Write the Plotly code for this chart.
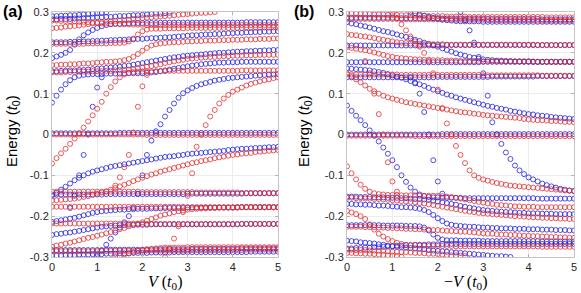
import plotly.graph_objects as go

N = None

# Gate voltage V (units of t0), sampled every 0.1
V = [0.0, 0.1, 0.2, 0.3, 0.4, 0.5, 0.6, 0.7, 0.8, 0.9,
     1.0, 1.1, 1.2, 1.3, 1.4, 1.5, 1.6, 1.7, 1.8, 1.9,
     2.0, 2.1, 2.2, 2.3, 2.4, 2.5, 2.6, 2.7, 2.8, 2.9,
     3.0, 3.1, 3.2, 3.3, 3.4, 3.5, 3.6, 3.7, 3.8, 3.9,
     4.0, 4.1, 4.2, 4.3, 4.4, 4.5, 4.6, 4.7, 4.8, 4.9,
     5.0]

X_TICKS = ["0", "1", "2", "3", "4", "5"]
Y_TICKVALS = [-0.3, -0.2, -0.1, 0, 0.1, 0.2, 0.3]
Y_TICKS = ["-0.3", "-0.2", "-0.1", "0", "0.1", "0.2", "0.3"]

# ---------------- Panel (a): energies in units of 1e-3 t0 ----------------
a_blue_1 = [290,290,291,291,292,292,293,294,295,296,
            297,298,299,N,N,N,N,N,N,N,
            N,N,N,N,N,N,N,N,N,N,
            N,N,N,N,N,N,N,N,N,N,
            N,N,N,N,N,N,N,N,N,N,
            N]
a_blue_2 = [282,282,283,283,283,284,284,285,285,286,
            287,287,288,288,289,290,290,291,292,292,
            293,294,295,296,296,297,298,N,N,N,
            N,N,N,N,N,N,N,N,N,N,
            N,N,N,N,N,N,N,N,N,N,
            N]
a_blue_3 = [187,191,195,200,207,220,233,243,250,256,
            261,265,268,270,271,271,272,272,273,273,
            273,273,273,273,274,274,274,274,274,274,
            274,274,274,274,274,274,274,274,274,274,
            274,274,274,275,275,275,275,275,275,275,
            275]
a_blue_4 = [226,226,226,226,227,227,227,228,228,229,
            229,230,230,231,231,232,232,233,233,234,
            234,235,236,236,237,238,238,239,240,241,
            242,243,243,244,245,245,246,246,247,248,
            248,249,249,250,250,251,251,252,252,253,
            253]
a_blue_5 = [155,155,156,156,157,157,158,158,159,160,
            161,162,163,164,165,166,168,169,171,173,
            175,177,179,181,183,185,187,189,190,192,
            193,194,195,196,197,198,199,200,200,201,
            202,203,203,204,204,205,205,206,206,207,
            207]
a_blue_6 = [78,95,110,123,133,140,144,146,147,148,
            148,148,149,149,149,149,150,150,150,150,
            150,151,152,153,155,157,159,161,163,165,
            167,169,170,172,173,174,175,176,176,177,
            177,177,178,178,178,178,178,178,178,178,
            178]
a_blue_7 = [N,N,N,N,-180,-150,-100,-50,0,68,
            115,140,N,N,N,N,N,N,N,N,
            N,N,N,N,N,N,N,N,N,N,
            N,N,N,N,N,N,N,N,N,N,
            N,N,N,N,N,N,N,N,N,N,
            N]
a_blue_8 = [N,N,N,N,N,N,N,N,N,N,
            -298,-285,-270,-255,-240,-228,-215,-200,-180,-145,
            -100,-50,-15,8,25,44,60,76,90,101,
            108,114,119,123,126,129,132,134,136,138,
            139,140,141,142,143,144,145,146,147,147,
            148]
a_blue_9 = [3,3,3,3,3,3,3,3,3,3,
            3,3,3,3,3,4,4,4,4,4,
            4,4,4,4,4,4,4,4,4,4,
            4,4,4,4,4,4,4,4,4,4,
            4,4,4,4,4,4,4,4,4,4,
            4]
a_blue_10 = [-150,-143,-135,-128,-120,-112,-106,-100,-95,-91,
             -88,-85,-82,-79,-77,-75,-73,-71,-69,-67,
             -65,-63,-61,-59,-57,-55,-54,-53,-51,-50,
             -48,-47,-46,-45,-44,-43,-42,-41,-40,-38,
             -37,-36,-35,-35,-34,-33,-33,-32,-31,-31,
             -30]
a_blue_11 = [-147,-147,-147,-147,-147,-147,-147,-147,-147,-147,
             -147,-147,-146,-146,-146,-146,-146,-146,-146,-146,
             -146,-146,-146,-146,-146,-146,-146,-146,-146,-146,
             -145,-145,-145,-145,-145,-145,-145,-145,-145,-145,
             -145,-145,-145,-144,-144,-144,-144,-144,-144,-144,
             -144]
a_blue_12 = [-214,-212,-210,-208,-206,-204,-201,-198,-195,-192,
             -190,-188,-187,-186,-185,-184,-184,-183,-183,-182,
             -182,-182,-181,-181,-181,-180,-180,-180,-180,-180,
             -179,-179,-179,-179,-179,-179,-179,-179,-179,-179,
             -179,-179,-178,-178,-178,-178,-178,-178,-178,-178,
             -178]
a_blue_13 = [-246,-244,-243,-241,-240,-238,-236,-234,-232,-230,
             -228,-226,-225,-224,-223,-222,-222,-221,-221,-221,
             -221,-221,-220,-220,-220,-220,-220,-220,-220,-220,
             -220,-220,-220,-220,-220,-220,-220,-220,-220,-220,
             -220,-220,-219,-219,-219,-219,-219,-219,-219,-219,
             -219]
a_blue_14 = [-283,-283,-283,-283,-283,-283,-283,-283,-283,-283,
             -283,-283,-282,-282,-282,-282,-282,-282,-282,-282,
             -282,-282,-281,-281,-281,-281,-281,-281,-281,-281,
             -281,-280,-280,-280,-280,-280,-280,-280,-280,-280,
             -280,-280,-279,-279,-279,-279,-279,-279,-279,-279,
             -279]
a_blue_15 = [-296,-296,-296,-295,-295,-295,-294,-294,-294,-293,
             -293,-293,-292,-292,-292,-291,-291,-291,-290,-290,
             -290,-290,-289,-289,-289,-289,-289,-288,-288,-288,
             -288,-288,-288,-288,-288,-288,-288,-288,-288,-288,
             -288,-288,-288,-288,-287,-287,-287,-287,-287,-287,
             -287]

a_red_1 = [260,261,262,264,265,266,267,269,270,272,
           274,275,276,277,278,279,280,281,283,284,
           285,286,287,288,289,290,291,292,293,294,
           295,296,297,298,298,299,300,N,N,N,
           N,N,N,N,N,N,N,N,N,N,
           N]
a_red_2 = [279,279,278,278,277,277,276,276,275,274,
           273,272,272,271,271,270,270,270,269,269,
           269,268,268,268,268,268,268,268,268,268,
           268,268,268,268,268,268,268,268,268,268,
           268,268,268,268,268,268,268,268,268,268,
           268]
a_red_3 = [222,222,222,222,222,222,222,222,223,223,
           223,223,223,224,224,224,225,228,235,245,
           253,257,259,259,259,260,260,260,260,260,
           261,261,261,261,261,261,261,261,261,261,
           261,261,261,262,262,262,262,262,262,262,
           262]
a_red_4 = [170,170,171,171,172,172,173,174,174,175,
           176,177,178,178,179,180,182,185,190,197,
           205,212,218,221,223,224,225,226,226,227,
           228,228,229,229,230,230,230,231,231,231,
           232,232,232,233,233,233,234,234,234,235,
           235]
a_red_5 = [152,152,152,153,153,153,154,154,154,155,
           155,155,156,156,157,158,158,159,160,162,
           164,166,168,170,172,175,177,179,181,183,
           185,186,187,188,189,190,190,191,192,192,
           193,193,193,194,194,194,195,195,195,195,
           195]
a_red_6 = [-71,-58,-46,-35,-23,-10,3,17,32,47,
           63,80,100,116,130,140,147,151,153,154,
           154,155,155,155,155,155,156,156,156,156,
           156,156,156,156,156,156,156,156,156,156,
           156,156,157,157,157,157,157,157,157,157,
           157]
a_red_7 = [N,N,N,N,N,N,N,N,N,N,
           N,N,N,N,-125,-105,-80,-50,5,68,
           118,146,N,N,N,N,N,N,N,N,
           N,N,N,N,N,N,N,N,N,N,
           N,N,N,N,N,N,N,N,N,N,
           N]
a_red_8 = [N,N,N,N,N,N,N,N,N,N,
           N,N,N,N,N,N,N,N,N,N,
           N,N,N,N,N,-300,-280,-255,-225,-190,
           -150,-95,-30,0,23,44,60,76,88,97,
           105,110,115,120,124,127,130,133,135,138,
           140]
a_red_9 = [0,0,0,0,0,0,0,0,0,0,
           0,0,0,0,0,0,0,0,0,0,
           0,-1,-1,-1,-1,-1,-1,-1,-1,-1,
           -1,-1,-1,-1,-1,-1,-1,-1,-1,-1,
           -1,-1,-1,-1,-1,-1,-1,-1,-1,-1,
           -1]
a_red_10 = [-162,-161,-160,-159,-158,-157,-155,-153,-151,-148,
            -145,-142,-139,-135,-131,-127,-123,-119,-114,-110,
            -106,-102,-98,-95,-91,-88,-85,-82,-79,-76,
            -73,-70,-68,-65,-63,-61,-58,-56,-54,-52,
            -50,-49,-47,-46,-45,-43,-42,-41,-40,-39,
            -38]
a_red_11 = [-140,-140,-140,-140,-140,-140,-140,-140,-140,-140,
            -140,-140,-140,-140,-140,-140,-140,-140,-140,-140,
            -141,-141,-141,-141,-141,-141,-141,-141,-141,-141,
            -141,-141,-142,-142,-142,-142,-142,-142,-142,-142,
            -142,-142,-143,-143,-143,-143,-143,-143,-143,-143,
            -143]
a_red_12 = [-177,-177,-177,-177,-177,-177,-177,-177,-177,-177,
            -177,-177,-177,-177,-177,-177,-177,-177,-177,-177,
            -177,-177,-177,-177,-177,-177,-177,-177,-177,-177,
            -178,-178,-178,-178,-178,-178,-178,-178,-178,-178,
            -178,-178,-178,-178,-178,-178,-178,-178,-178,-178,
            -178]
a_red_13 = [-218,-218,-218,-218,-218,-218,-218,-218,-218,-218,
            -218,-218,-218,-218,-218,-218,-218,-218,-218,-218,
            -219,-219,-219,-219,-219,-219,-219,-219,-219,-219,
            -219,-219,-219,-219,-219,-219,-219,-219,-219,-219,
            -219,-219,-219,-219,-219,-219,-219,-219,-219,-219,
            -219]
a_red_14 = [-275,-272,-270,-267,-265,-262,-259,-256,-253,-251,
            -248,-245,-242,-239,-235,-232,-229,-225,-222,-219,
            -215,-211,-207,-203,-199,-196,-193,-190,-188,-186,
            -184,-183,-182,-181,-181,-180,-180,-179,-179,-179,
            -179,-178,-178,-178,-178,-178,-178,-178,-178,-178,
            -178]
a_red_15 = [-286,-286,-286,-286,-286,-286,-286,-286,-286,-286,
            -286,-285,-285,-285,-285,-285,-285,-285,-285,-285,
            -285,-284,-284,-284,-284,-284,-284,-284,-284,-284,
            -284,-283,-283,-283,-283,-283,-283,-283,-283,-283,
            -283,-283,-283,-282,-282,-282,-282,-282,-282,-282,
            -282]
a_red_16 = [N,N,N,N,N,N,N,N,N,N,
            N,N,N,N,-300,-297,-294,-291,-288,-285,
            -283,-281,-280,-279,-278,-277,-277,-277,-277,-277,
            -276,-276,-276,-276,-276,-276,-276,-276,-276,-276,
            -276,-276,-276,-276,-276,-276,-276,-276,-276,-276,
            -276]

# ---------------- Panel (b): energies in units of 1e-3 t0 ----------------
b_blue_1 = [-260,-261,-262,-264,-265,-266,-267,-269,-270,-272,
            -274,-275,-276,-277,-278,-279,-280,-281,-283,-284,
            -285,-286,-287,-288,-289,-290,-291,-292,-293,-294,
            -295,-296,-297,-298,-298,-299,-300,N,N,N,
            N,N,N,N,N,N,N,N,N,N,
            N]
b_blue_2 = [-279,-279,-278,-278,-277,-277,-276,-276,-275,-274,
            -273,-272,-272,-271,-271,-270,-270,-270,-269,-269,
            -269,-268,-268,-268,-268,-268,-268,-268,-268,-268,
            -268,-268,-268,-268,-268,-268,-268,-268,-268,-268,
            -268,-268,-268,-268,-268,-268,-268,-268,-268,-268,
            -268]
b_blue_3 = [-222,-222,-222,-222,-222,-222,-222,-222,-223,-223,
            -223,-223,-223,-224,-224,-224,-225,-228,-235,-245,
            -253,-257,-259,-259,-259,-260,-260,-260,-260,-260,
            -261,-261,-261,-261,-261,-261,-261,-261,-261,-261,
            -261,-261,-261,-262,-262,-262,-262,-262,-262,-262,
            -262]
b_blue_4 = [-170,-170,-171,-171,-172,-172,-173,-174,-174,-175,
            -176,-177,-178,-178,-179,-180,-182,-185,-190,-197,
            -205,-212,-218,-221,-223,-224,-225,-226,-226,-227,
            -228,-228,-229,-229,-230,-230,-230,-231,-231,-231,
            -232,-232,-232,-233,-233,-233,-234,-234,-234,-235,
            -235]
b_blue_5 = [-152,-152,-152,-153,-153,-153,-154,-154,-154,-155,
            -155,-155,-156,-156,-157,-158,-158,-159,-160,-162,
            -164,-166,-168,-170,-172,-175,-177,-179,-181,-183,
            -185,-186,-187,-188,-189,-190,-190,-191,-192,-192,
            -193,-193,-193,-194,-194,-194,-195,-195,-195,-195,
            -195]
b_blue_6 = [71,58,46,35,23,10,-3,-17,-32,-47,
            -63,-80,-100,-116,-130,-140,-147,-151,-153,-154,
            -154,-155,-155,-155,-155,-155,-156,-156,-156,-156,
            -156,-156,-156,-156,-156,-156,-156,-156,-156,-156,
            -156,-156,-157,-157,-157,-157,-157,-157,-157,-157,
            -157]
b_blue_7 = [N,N,N,N,N,N,N,N,N,N,
            N,N,N,N,140,125,100,55,0,-63,
            -115,-145,N,N,N,N,N,N,N,N,
            N,N,N,N,N,N,N,N,N,N,
            N,N,N,N,N,N,N,N,N,N,
            N]
b_blue_8 = [N,N,N,N,N,N,N,N,N,N,
            N,N,N,N,N,N,N,N,N,N,
            N,N,N,N,N,300,280,255,225,190,
            150,95,30,0,-23,-44,-60,-76,-88,-97,
            -105,-110,-115,-120,-124,-127,-130,-133,-135,-137,
            -138]
b_blue_9 = [0,0,0,0,0,0,0,0,0,0,
            0,0,0,0,0,0,0,0,0,0,
            0,1,1,1,1,1,1,1,1,1,
            1,1,1,1,1,1,1,1,1,1,
            1,1,1,1,1,1,1,1,1,1,
            1]
b_blue_10 = [162,161,160,159,158,157,155,153,151,148,
             145,142,139,135,131,127,123,119,114,110,
             106,102,98,95,91,88,85,82,79,76,
             73,70,68,65,63,61,58,56,54,52,
             50,49,47,46,45,43,42,41,40,39,
             38]
b_blue_11 = [140,140,140,140,140,140,140,140,140,140,
             140,140,140,140,140,140,140,140,140,140,
             141,141,141,141,141,141,141,141,141,141,
             141,141,142,142,142,142,142,142,142,142,
             142,142,143,143,143,143,143,143,143,143,
             143]
b_blue_12 = [177,177,177,177,177,177,177,177,177,177,
             177,177,177,177,177,177,177,177,177,177,
             177,177,177,177,177,177,177,177,177,177,
             178,178,178,178,178,178,178,178,178,178,
             178,178,178,178,178,178,178,178,178,178,
             178]
b_blue_13 = [218,218,218,218,218,218,218,218,218,218,
             218,218,218,218,218,218,218,218,218,218,
             219,219,219,219,219,219,219,219,219,219,
             219,219,219,219,219,219,219,219,219,219,
             219,219,219,219,219,219,219,219,219,219,
             219]
b_blue_14 = [275,272,270,267,265,262,259,256,253,251,
             248,245,242,239,235,232,229,225,222,219,
             215,211,207,203,199,196,193,190,188,186,
             184,183,182,181,181,180,180,179,179,179,
             179,178,178,178,178,178,178,178,178,178,
             178]
b_blue_15 = [286,286,286,286,286,286,286,286,286,286,
             286,285,285,285,285,285,285,285,285,285,
             285,284,284,284,284,284,284,284,284,284,
             284,283,283,283,283,283,283,283,283,283,
             283,283,283,282,282,282,282,282,282,282,
             282]
b_blue_16 = [N,N,N,N,N,N,N,N,N,N,
             N,N,N,N,300,297,294,291,288,285,
             283,281,280,279,278,277,277,277,277,277,
             276,276,276,276,276,276,276,276,276,276,
             276,276,276,276,276,276,276,276,276,276,
             276]

b_red_1 = [-290,-290,-291,-291,-292,-292,-293,-294,-295,-296,
           -297,-298,-299,N,N,N,N,N,N,N,
           N,N,N,N,N,N,N,N,N,N,
           N,N,N,N,N,N,N,N,N,N,
           N,N,N,N,N,N,N,N,N,N,
           N]
b_red_2 = [-282,-282,-283,-283,-283,-284,-284,-285,-285,-286,
           -287,-287,-288,-288,-289,-290,-290,-291,-292,-292,
           -293,-294,-295,-296,-296,-297,-298,N,N,N,
           N,N,N,N,N,N,N,N,N,N,
           N,N,N,N,N,N,N,N,N,N,
           N]
b_red_3 = [-187,-191,-195,-200,-207,-220,-233,-243,-250,-256,
           -261,-265,-268,-270,-271,-271,-272,-272,-273,-273,
           -273,-273,-273,-273,-274,-274,-274,-274,-274,-274,
           -274,-274,-274,-274,-274,-274,-274,-274,-274,-274,
           -274,-274,-274,-275,-275,-275,-275,-275,-275,-275,
           -275]
b_red_4 = [-226,-226,-226,-226,-227,-227,-227,-228,-228,-229,
           -229,-230,-230,-231,-231,-232,-232,-233,-233,-234,
           -234,-235,-236,-236,-237,-238,-238,-239,-240,-241,
           -242,-243,-243,-244,-245,-245,-246,-246,-247,-248,
           -248,-249,-249,-250,-250,-251,-251,-252,-252,-253,
           -253]
b_red_5 = [-155,-155,-156,-156,-157,-157,-158,-158,-159,-160,
           -161,-162,-163,-164,-165,-166,-168,-169,-171,-173,
           -175,-177,-179,-181,-183,-185,-187,-189,-190,-192,
           -193,-194,-195,-196,-197,-198,-199,-200,-200,-201,
           -202,-203,-203,-204,-204,-205,-205,-206,-206,-207,
           -207]
b_red_6 = [-78,-95,-110,-123,-133,-140,-144,-146,-147,-148,
           -148,-148,-149,-149,-149,-149,-150,-150,-150,-150,
           -150,-151,-152,-153,-155,-157,-159,-161,-163,-165,
           -167,-169,-170,-172,-173,-174,-175,-176,-176,-177,
           -177,-177,-178,-178,-178,-178,-178,-178,-178,-178,
           -178]
b_red_7 = [N,N,N,N,180,150,100,50,0,-68,
           -115,-140,N,N,N,N,N,N,N,N,
           N,N,N,N,N,N,N,N,N,N,
           N,N,N,N,N,N,N,N,N,N,
           N,N,N,N,N,N,N,N,N,N,
           N]
b_red_8 = [N,N,N,N,N,N,N,N,N,N,
           298,285,270,255,240,228,215,200,180,150,
           110,65,27,0,-28,-50,-70,-88,-100,-106,
           -110,-113,-116,-119,-121,-123,-125,-126,-127,-128,
           -129,-130,-131,-132,-133,-134,-135,-136,-137,-138,
           -139]
b_red_9 = [-3,-3,-3,-3,-3,-3,-3,-3,-3,-3,
           -3,-3,-3,-3,-3,-4,-4,-4,-4,-4,
           -4,-4,-4,-4,-4,-4,-4,-4,-4,-4,
           -4,-4,-4,-4,-4,-4,-4,-4,-4,-4,
           -4,-4,-4,-4,-4,-4,-4,-4,-4,-4,
           -4]
b_red_10 = [150,143,135,128,120,112,106,100,95,91,
            88,85,82,79,77,75,73,71,69,67,
            65,63,61,59,57,55,54,53,51,50,
            48,47,46,45,44,43,42,41,40,38,
            37,36,35,35,34,33,33,32,31,31,
            30]
b_red_11 = [147,147,147,147,147,147,147,147,147,147,
            147,147,146,146,146,146,146,146,146,146,
            146,146,146,146,146,146,146,146,146,146,
            145,145,145,145,145,145,145,145,145,145,
            145,145,145,144,144,144,144,144,144,144,
            144]
b_red_12 = [214,212,210,208,206,204,201,198,195,192,
            190,188,187,186,185,184,184,183,183,182,
            182,182,181,181,181,180,180,180,180,180,
            179,179,179,179,179,179,179,179,179,179,
            179,179,178,178,178,178,178,178,178,178,
            178]
b_red_13 = [246,244,243,241,240,238,236,234,232,230,
            228,226,225,224,223,222,222,221,221,221,
            221,221,220,220,220,220,220,220,220,220,
            220,220,220,220,220,220,220,220,220,220,
            220,220,219,219,219,219,219,219,219,219,
            219]
b_red_14 = [283,283,283,283,283,283,283,283,283,283,
            283,283,282,282,282,282,282,282,282,282,
            282,282,281,281,281,281,281,281,281,281,
            281,280,280,280,280,280,280,280,280,280,
            280,280,279,279,279,279,279,279,279,279,
            279]
b_red_15 = [296,296,296,295,295,295,294,294,294,293,
            293,293,292,292,292,291,291,291,290,290,
            290,290,289,289,289,289,289,288,288,288,
            288,288,288,288,288,288,288,288,288,288,
            288,288,288,288,287,287,287,287,287,287,
            287]

a_blue = [a_blue_1, a_blue_2, a_blue_3, a_blue_4, a_blue_5, a_blue_6, a_blue_7, a_blue_8,
          a_blue_9, a_blue_10, a_blue_11, a_blue_12, a_blue_13, a_blue_14, a_blue_15]
a_red = [a_red_1, a_red_2, a_red_3, a_red_4, a_red_5, a_red_6, a_red_7, a_red_8,
         a_red_9, a_red_10, a_red_11, a_red_12, a_red_13, a_red_14, a_red_15, a_red_16]
b_blue = [b_blue_1, b_blue_2, b_blue_3, b_blue_4, b_blue_5, b_blue_6, b_blue_7, b_blue_8,
          b_blue_9, b_blue_10, b_blue_11, b_blue_12, b_blue_13, b_blue_14, b_blue_15, b_blue_16]
b_red = [b_red_1, b_red_2, b_red_3, b_red_4, b_red_5, b_red_6, b_red_7, b_red_8,
         b_red_9, b_red_10, b_red_11, b_red_12, b_red_13, b_red_14, b_red_15]

BLUE = "rgba(35,35,225,0.80)"
RED = "rgba(225,45,45,0.78)"

fig = go.Figure()


def add_curves(curves, color, xa, ya):
    for c in curves:
        fig.add_trace(go.Scatter(
            x=V, y=[None if v is None else v / 1000.0 for v in c],
            mode="markers",
            marker=dict(symbol="circle-open", size=5, color=color, line=dict(width=1)),
            xaxis=xa, yaxis=ya, showlegend=False, hoverinfo="skip"))


add_curves(a_blue, BLUE, "x", "y")
add_curves(a_red, RED, "x", "y")
add_curves(b_blue, BLUE, "x2", "y2")
add_curves(b_red, RED, "x2", "y2")

W, H = 581, 293
ydom = [36 / H, 1 - 12 / H]
tickfont = dict(family="Liberation Sans", size=11, color="#262626")

xcommon = dict(range=[0, 5], tickmode="array", tickvals=[0, 1, 2, 3, 4, 5], ticktext=X_TICKS,
               showgrid=True, gridcolor="#ececec", gridwidth=1, zeroline=False,
               showline=True, linecolor="#c4c4c4", linewidth=1, mirror="ticks",
               ticks="inside", ticklen=3, tickcolor="#b4b4b4", tickfont=tickfont,
               automargin=False)
ycommon = dict(range=[-0.3, 0.3], tickmode="array", tickvals=Y_TICKVALS, ticktext=Y_TICKS,
               showgrid=True, gridcolor="#ececec", gridwidth=1, zeroline=False,
               showline=True, linecolor="#c4c4c4", linewidth=1, mirror="ticks",
               ticks="inside", ticklen=3, tickcolor="#b4b4b4", tickfont=tickfont,
               automargin=False)

fig.update_layout(
    width=W, height=H, margin=dict(l=0, r=0, t=0, b=0, autoexpand=False),
    paper_bgcolor="white", plot_bgcolor="white",
    xaxis=dict(domain=[52 / W, 278 / W], anchor="y", **xcommon),
    yaxis=dict(domain=ydom, anchor="x", **ycommon),
    xaxis2=dict(domain=[347 / W, 574 / W], anchor="y2", **xcommon),
    yaxis2=dict(domain=ydom, anchor="x2", **ycommon),
)

sans = "Liberation Sans"
serif = "Liberation Serif"
ann = [
    dict(text="<b>(a)</b>", x=13 / W, y=1 - 11 / H, yanchor="middle",
         font=dict(family=sans, size=16, color="black")),
    dict(text="<b>(b)</b>", x=304 / W, y=1 - 11 / H, yanchor="middle",
         font=dict(family=sans, size=16, color="black")),
    dict(text="Energy (<i>t</i><sub>0</sub>)", x=12 / W, y=1 - 131 / H, yanchor="middle",
         textangle=-90, font=dict(family=sans, size=15, color="black")),
    dict(text="Energy (<i>t</i><sub>0</sub>)", x=304 / W, y=1 - 131 / H, yanchor="middle",
         textangle=-90, font=dict(family=sans, size=15, color="black")),
    dict(text="<i>V</i> (<i>t</i><sub>0</sub>)", x=165 / W, y=0, yanchor="bottom",
         font=dict(family=serif, size=16, color="black")),
    dict(text="\u2212<i>V</i> (<i>t</i><sub>0</sub>)", x=466 / W, y=0, yanchor="bottom",
         font=dict(family=serif, size=16, color="black")),
]
for a in ann:
    fig.add_annotation(xref="paper", yref="paper", showarrow=False,
                       xanchor="center", borderpad=0, **a)

fig.write_html(
    "out.html",
    config={"displayModeBar": False, "staticPlot": True},
    post_script="document.body.style.margin='0';document.body.style.padding='0';"
                "document.body.style.overflow='hidden';",
)
